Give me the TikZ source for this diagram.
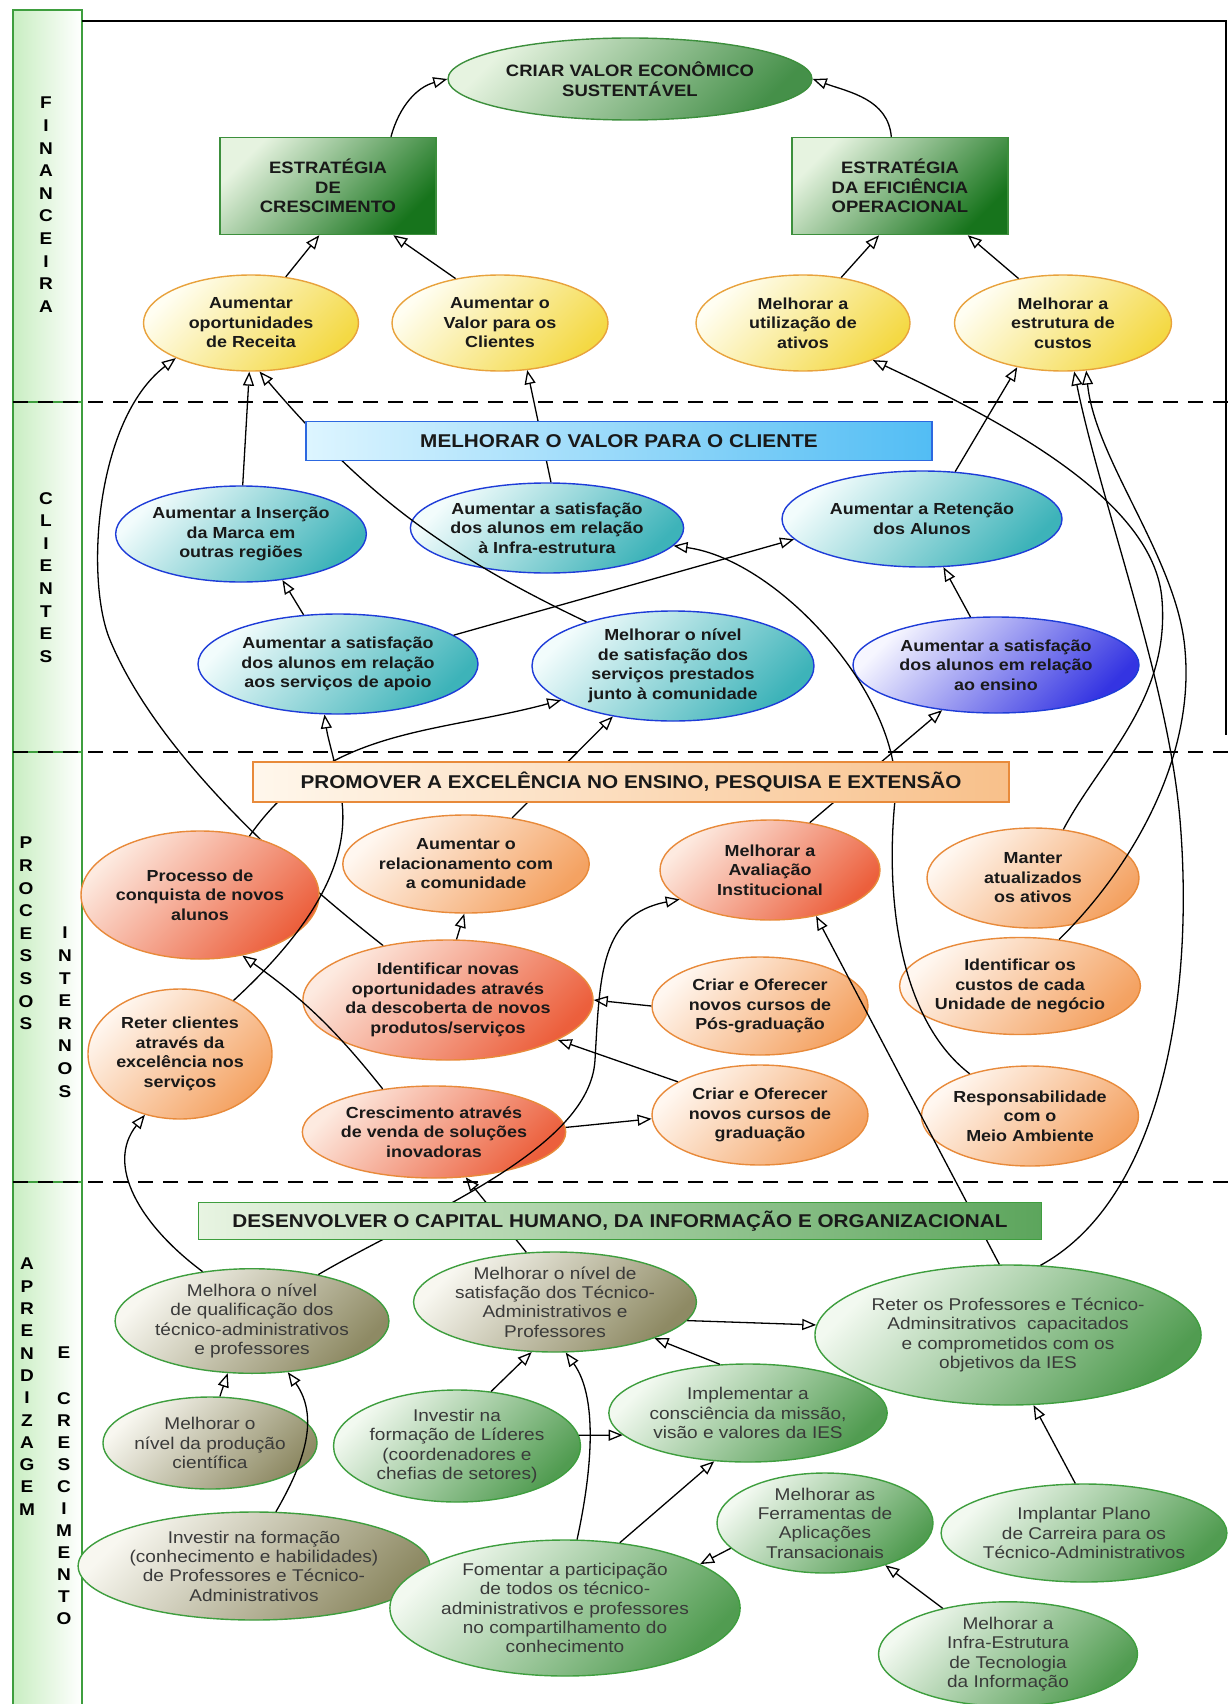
\documentclass[tikz,border=0pt]{standalone}
\usepackage{fontspec}
\setmainfont{Liberation Sans}[FakeStretch=1.12]
\usetikzlibrary{positioning, shapes.geometric, arrows.meta, backgrounds}
\usepackage{xcolor}
\definecolor{bscfinl}{HTML}{E6F3E0}
\definecolor{bscfind}{HTML}{17741C}
\definecolor{bscfine}{HTML}{3C8F3C}
\definecolor{bscylwl}{HTML}{FFFEF2}
\definecolor{bscylwd}{HTML}{F4D944}
\definecolor{bscylwe}{HTML}{E8A23C}
\definecolor{bsccyal}{HTML}{F2FCFC}
\definecolor{bsccyad}{HTML}{3DB3B9}
\definecolor{bsccyae}{HTML}{1E3CD8}
\definecolor{bscensl}{HTML}{F6F6FF}
\definecolor{bscensd}{HTML}{3434E2}
\definecolor{bscbncl}{HTML}{DDF5FF}
\definecolor{bscbncd}{HTML}{52BDF4}
\definecolor{bscbnce}{HTML}{2C68E0}
\definecolor{bscorgl}{HTML}{FFF7F0}
\definecolor{bscorgd}{HTML}{F4A262}
\definecolor{bscorge}{HTML}{E88A3A}
\definecolor{bscredl}{HTML}{FDEAE0}
\definecolor{bscredd}{HTML}{EC5F3C}
\definecolor{bscbnpl}{HTML}{FFF7EC}
\definecolor{bscbnpd}{HTML}{F8C08A}
\definecolor{bscolvl}{HTML}{F8F7F0}
\definecolor{bscolvd}{HTML}{8E8A64}
\definecolor{bscgrnl}{HTML}{F2F9F0}
\definecolor{bscgrnd}{HTML}{519C51}
\definecolor{bscgrne}{HTML}{3E9E3E}
\definecolor{bscbnal}{HTML}{E8F4E2}
\definecolor{bscbnad}{HTML}{5CA55C}
\definecolor{bscbar}{HTML}{C9EEC2}
\definecolor{bsctxt}{HTML}{3A3A3A}

\begin{document}
\begin{tikzpicture}[x=1pt, y=1pt,
    every node/.style={align=center, inner sep=0pt},
    arr/.style={-{Triangle[open, length=14pt, width=11pt]}, line width=1.3pt},
    sectline/.style={line width=2.4pt, dash pattern=on 15pt off 10pt},
    barbox/.style={draw=bscgrne, line width=1.6pt, left color=bscbar, right color=white},
    barlbl/.style={font=\bfseries\fontsize{17}{22.6}\selectfont, anchor=north},
    boldtxt/.style={font=\bfseries\fontsize{16}{19.5}\selectfont, text=black!90},
    thintxt/.style={font=\fontsize{17}{19.3}\selectfont, text=bsctxt},
    elp/.style={ellipse, line width=1.4pt},
    finrect/.style={rectangle, draw=bscfine, line width=1.4pt, top color=bscfinl, bottom color=bscfind, shading angle=45, boldtxt, font=\bfseries\fontsize{16.5}{19.5}\selectfont},
    finelp/.style={elp, draw=bscfine, top color=bscfinl, bottom color=bscfind!80, shading angle=45, boldtxt, font=\bfseries\fontsize{16.5}{19.5}\selectfont},
    ylwelp/.style={elp, draw=bscylwe, top color=bscylwl, bottom color=bscylwd, shading angle=45, boldtxt},
    cyaelp/.style={elp, draw=bsccyae, top color=bsccyal, bottom color=bsccyad, shading angle=45, boldtxt},
    enselp/.style={elp, draw=bsccyae, top color=bscensl, bottom color=bscensd, shading angle=45, boldtxt},
    orgelp/.style={elp, draw=bscorge, top color=bscorgl, bottom color=bscorgd, shading angle=45, boldtxt},
    redelp/.style={elp, draw=bscorge, top color=bscredl, bottom color=bscredd, shading angle=45, boldtxt},
    olvelp/.style={elp, draw=bscgrne, top color=bscolvl, bottom color=bscolvd, shading angle=45, thintxt},
    grnelp/.style={elp, draw=bscgrne, top color=bscgrnl, bottom color=bscgrnd, shading angle=45, thintxt},
    banner/.style={rectangle, line width=1.5pt, font=\bfseries\fontsize{18.5}{22}\selectfont, text=black!90}]

  \useasboundingbox (0,0) rectangle (1231,-1704);

  % left band and section lines
  \foreach \ya/\yb in {10/402, 402/752, 752/1182, 1182/1710}
    \draw[barbox] (13,-\ya) rectangle (82,-\yb);
  \foreach \yy in {402, 752, 1182}
    \draw[sectline] (13,-\yy) -- (1231,-\yy);
  \draw[line width=2pt] (82,-21) -- (1226,-21) -- (1226,-735);

  \node[barlbl] (lblfin) at (46,-97) {F\\I\\N\\A\\N\\C\\E\\I\\R\\A};
  \node[barlbl] (lblcli) at (46,-492) {C\\L\\I\\E\\N\\T\\E\\S};
  \node[barlbl] (lblpro) at (26,-837) {P\\R\\O\\C\\E\\S\\S\\O\\S};
  \node[barlbl] (lblint) at (65,-927) {I\\N\\T\\E\\R\\N\\O\\S};
  \node[barlbl, font=\bfseries\fontsize{17}{22.3}\selectfont] (lblapr) at (27,-1258) {A\\P\\R\\E\\N\\D\\I\\Z\\A\\G\\E\\M};
  \node[barlbl] (lble) at (64,-1347) {E};
  \node[barlbl, font=\bfseries\fontsize{17}{22}\selectfont] (lblcre) at (64,-1392) {C\\R\\E\\S\\C\\I\\M\\E\\N\\T\\O};

  % financeira
  \node[finelp, minimum width=364pt, minimum height=82pt] (criar) at (630,-79) {CRIAR VALOR ECONÔMICO\\SUSTENTÁVEL};
  \node[finrect, minimum width=216pt, minimum height=97pt] (ecresc) at (328,-186) {ESTRATÉGIA\\DE\\CRESCIMENTO};
  \node[finrect, minimum width=216pt, minimum height=97pt] (eefic) at (900,-186) {ESTRATÉGIA\\DA EFICIÊNCIA\\OPERACIONAL};
  \node[ylwelp, minimum width=215pt, minimum height=96pt] (receita) at (251,-323) {Aumentar\\oportunidades\\de Receita};
  \node[ylwelp, minimum width=216pt, minimum height=96pt] (valor) at (500,-323) {Aumentar o\\Valor para os\\Clientes};
  \node[ylwelp, minimum width=214pt, minimum height=96pt] (ativos) at (803,-323) {Melhorar a\\utilização de\\ativos};
  \node[ylwelp, minimum width=217pt, minimum height=96pt] (custest) at (1063,-323) {Melhorar a\\estrutura de\\custos};

  % clientes
  \node[cyaelp, minimum width=228pt, minimum height=96pt] (marca) at (241,-534) {Aumentar a Inserção\\da Marca em\\outras regiões};
  \node[cyaelp, minimum width=242pt, minimum height=90pt] (infraest) at (547,-528) {Aumentar a satisfação\\dos alunos em relação\\à Infra-estrutura};
  \node[cyaelp, minimum width=280pt, minimum height=96pt] (reten) at (922,-519) {Aumentar a Retenção\\dos Alunos};
  \node[cyaelp, minimum width=280pt, minimum height=100pt] (apoio) at (338,-664) {Aumentar a satisfação\\dos alunos em relação\\aos serviços de apoio};
  \node[cyaelp, minimum width=282pt, minimum height=110pt] (comun) at (673,-666) {Melhorar o nível\\de satisfação dos\\serviços prestados\\junto à comunidade};
  \node[enselp, minimum width=286pt, minimum height=96pt] (ensino) at (996,-665) {Aumentar a satisfação\\dos alunos em relação\\ao ensino};

  % processos internos
  \node[redelp, minimum width=220pt, minimum height=128pt] (proc) at (200,-895) {Processo de\\conquista de novos\\alunos};
  \node[orgelp, minimum width=214pt, minimum height=98pt] (relac) at (466,-864) {Aumentar o\\relacionamento com\\a comunidade};
  \node[redelp, minimum width=220pt, minimum height=100pt] (avali) at (770,-870) {Melhorar a\\Avaliação\\Institucional};
  \node[orgelp, minimum width=212pt, minimum height=100pt] (manter) at (1033,-878) {Manter\\atualizados\\os ativos};
  \node[redelp, minimum width=284pt, minimum height=120pt] (ident) at (448,-1000) {Identificar novas\\oportunidades através\\da descoberta de novos\\produtos/serviços};
  \node[orgelp, minimum width=216pt, minimum height=98pt] (pos) at (760,-1006) {Criar e Oferecer\\novos cursos de\\Pós-graduação};
  \node[orgelp, minimum width=239pt, minimum height=97pt] (custos) at (1020,-986) {Identificar os\\custos de cada\\Unidade de negócio};
  \node[orgelp, minimum width=184pt, minimum height=130pt] (reterc) at (180,-1054) {Reter clientes\\através da\\excelência nos\\serviços};
  \node[redelp, minimum width=262pt, minimum height=92pt] (cresc) at (434,-1132) {Crescimento através\\de venda de soluções\\inovadoras};
  \node[orgelp, minimum width=216pt, minimum height=100pt] (grad) at (760,-1115) {Criar e Oferecer\\novos cursos de\\graduação};
  \node[orgelp, minimum width=217pt, minimum height=100pt] (resp) at (1030,-1116) {Responsabilidade\\com o\\Meio Ambiente};

  % aprendizagem e crescimento
  \node[olvelp, minimum width=262pt, minimum height=100pt] (qual) at (252,-1321) {Melhora o nível\\de qualificação dos\\técnico-administrativos\\e professores};
  \node[olvelp, minimum width=262pt, minimum height=100pt] (satis) at (555,-1302) {Melhorar o nível de\\satisfação dos Técnico-\\Administrativos e\\Professores};
  \node[grnelp, minimum width=346pt, minimum height=140pt] (reter) at (1008,-1335) {Reter os Professores e Técnico-\\Adminsitrativos\ \ capacitados\\e comprometidos com os\\objetivos da IES};
  \node[olvelp, minimum width=200pt, minimum height=92pt] (prod) at (210,-1443) {Melhorar o\\nível da produção\\científica};
  \node[grnelp, minimum width=240pt, minimum height=112pt] (lider) at (457,-1446) {Investir na\\formação de Líderes\\(coordenadores e\\chefias de setores)};
  \node[grnelp, minimum width=260pt, minimum height=98pt] (consc) at (748,-1413) {Implementar a\\consciência da missão,\\visão e valores da IES};
  \node[olvelp, minimum width=320pt, minimum height=108pt] (formacao) at (254,-1566) {Investir na formação\\(conhecimento e habilidades)\\de Professores e Técnico-\\Administrativos};
  \node[grnelp, minimum width=216pt, minimum height=100pt] (ferram) at (825,-1523) {Melhorar as\\Ferramentas de\\Aplicações\\Transacionais};
  \node[grnelp, minimum width=260pt, minimum height=98pt] (plano) at (1084,-1533) {Implantar Plano\\de Carreira para os\\Técnico-Administrativos};
  \node[grnelp, minimum width=324pt, minimum height=136pt] (fomentar) at (565,-1608) {Fomentar a participação\\de todos os técnico-\\administrativos e professores\\no compartilhamento do\\conhecimento};
  \node[grnelp, minimum width=259pt, minimum height=96pt] (infra) at (1008,-1654) {Melhorar a\\Infra-Estrutura\\de Tecnologia\\da Informação};

  % connectors
  \begin{scope}[on background layer]
    \draw[arr] (ident.140) .. controls (300,-880) and (160,-760) .. (110,-640)
      .. controls (85,-580) and (95,-420) .. (receita.205);
  \end{scope}
  \draw[arr] (ecresc.38) to[out=75, in=195] (criar.west);
  \draw[arr] (eefic.100) to[out=95, in=-20] (criar.east);
  \draw[arr] (receita.53) -- (ecresc.-100);
  \draw[arr] (valor.135) -- (ecresc.-37);
  \draw[arr] (ativos.50) -- (eefic.-113);
  \draw[arr] (custest.135) -- (eefic.-36);
  \draw[arr] (marca.88) -- (receita.-92);
  \draw[arr] (comun.153) to[bend left=12] (receita.-80);
  \draw[arr] (infraest.85) -- (valor.-60);
  \draw[arr] (apoio.14) -- (reten.189);
  \draw[arr] (apoio.125) -- (marca.-48);
  \draw[arr] (ensino.118) -- (reten.-66);
  \draw[arr] (reten.55) -- (custest.-136);
  \draw[arr] (proc.50) to[out=55, in=195] (comun.197);
  \draw[arr] (reterc.45) .. controls (310,-930) and (355,-860) .. (340,-790)
    .. controls (335,-760) and (328,-740) .. (apoio.-105);
  \draw[arr] (relac.45) -- (comun.-140);
  \draw[arr] (avali.50) -- (ensino.-140);
  \draw[arr] (resp.145) .. controls (900,-1020) and (885,-900) .. (895,-800)
    .. controls (905,-700) and (780,-560) .. (infraest.-8);
  \draw[arr] (cresc.140) to[bend right=8] (proc.-55);
  \draw[arr] (cresc.2) -- (grad.182);
  \draw[arr] (grad.158) -- (ident.-20);
  \draw[arr] (pos.west) -- (ident.east);
  \draw[arr] (ident.82) -- (relac.-92);
  \draw[arr] (manter.58) .. controls (1100,-760) and (1170,-700) .. (1162,-600)
    .. controls (1155,-500) and (1000,-420) .. (ativos.-28);
  \draw[arr] (custos.50) .. controls (1130,-870) and (1195,-760) .. (1185,-650)
    .. controls (1178,-560) and (1095,-460) .. (custest.-64);
  \draw[arr] (reter.65) .. controls (1160,-1200) and (1195,-1000) .. (1180,-820)
    .. controls (1168,-680) and (1100,-500) .. (custest.-77);
  \draw[arr] (reter.97) -- (avali.-45);
  \draw[arr] (qual.135) .. controls (140,-1225) and (105,-1165) .. (reterc.-120);
  \draw[arr] (qual.35) .. controls (420,-1215) and (590,-1150) .. (595,-1060)
    .. controls (600,-975) and (600,-915) .. (avali.198);
  \draw[arr] (satis.120) -- (cresc.-55);
  \draw[arr] (prod.78) -- (qual.-115);
  \draw[arr] (formacao.68) .. controls (300,-1470) and (322,-1420) .. (qual.-55);
  \draw[arr] (lider.58) -- (satis.-115);
  \draw[arr] (fomentar.80) .. controls (590,-1480) and (600,-1400) .. (satis.-78);
  \draw[arr] (lider.5) -- (consc.-170);
  \draw[arr] (fomentar.50) -- (consc.-125);
  \draw[arr] (satis.-8) -- (reter.177);
  \draw[arr] (consc.120) -- (satis.-20);
  \draw[arr] (ferram.195) -- (fomentar.18);
  \draw[arr] (infra.145) -- (ferram.-35);
  \draw[arr] (plano.100) -- (reter.-70);

  % banners
  \node[banner, draw=bscbnce, left color=bscbncl, right color=bscbncd, minimum width=626pt, minimum height=39pt] (banc) at (619,-441) {MELHORAR O VALOR PARA O CLIENTE};
  \node[banner, draw=bscorge, left color=bscbnpl, right color=bscbnpd, minimum width=756pt, minimum height=40pt] (banp) at (631,-782) {PROMOVER A EXCELÊNCIA NO ENSINO, PESQUISA E EXTENSÃO};
  \node[banner, draw=bscgrne, left color=bscbnal, right color=bscbnad, minimum width=843pt, minimum height=37pt] (bana) at (620,-1221) {DESENVOLVER O CAPITAL HUMANO, DA INFORMAÇÃO E ORGANIZACIONAL};
\end{tikzpicture}
\end{document}
